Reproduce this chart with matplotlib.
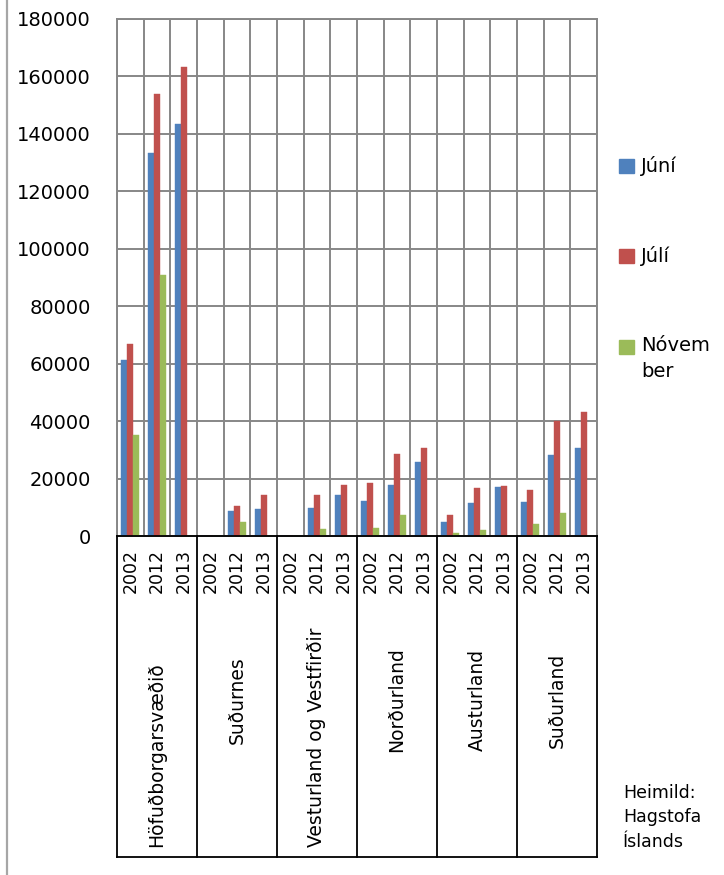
import matplotlib
matplotlib.use("Agg")
import matplotlib.pyplot as plt
from matplotlib.patches import Rectangle
from matplotlib.lines import Line2D
import matplotlib.transforms as mtransforms
import numpy as np

plt.rcParams['font.family'] = ['DejaVu Sans']

regions = ["Höfuðborgarsvæðið", "Suðurnes", "Vesturland og Vestfirðir",
           "Norðurland", "Austurland", "Suðurland"]
years = ["2002", "2012", "2013"]
series_names = ["Júní", "Júlí", "Nóvem\nber"]
series_colors = ["#4F81BD", "#C0504D", "#9BBB59"]

juni = [61300, 133200, 143300, 0, 8600, 9300, 0, 9750, 14200,
        12200, 17800, 25700, 4800, 11400, 17200, 11700, 28200, 30700]
juli = [66900, 154000, 163300, 0, 10350, 14200, 0, 14300, 17800,
        18500, 28600, 30600, 7400, 16700, 17300, 15900, 40200, 43300]
november = [35000, 91000, 0, 0, 5000, 0, 0, 2400, 0,
            2800, 7300, 0, 1050, 2100, 0, 4300, 8000, 0]
source_text = "Heimild:\nHagstofa\nÍslands"

W, H = 724, 875
fig = plt.figure(figsize=(W / 100, H / 100), dpi=100)

def fx(px):
    return px / W

def fy(py):
    return 1 - py / H

left, right, top, bottom = 117, 597, 19, 536
ax = fig.add_axes([fx(left), fy(bottom), fx(right - left), (bottom - top) / H])

n_cat = len(regions) * len(years)
x = np.arange(n_cat) + 0.5
bw = 1 / 4.5
all_series = [juni, juli, november]
for i, (vals, col) in enumerate(zip(all_series, series_colors)):
    ax.bar(x + (i - 1) * bw, vals, width=bw, color=col, zorder=3,
           edgecolor=col, linewidth=0.3)

grid_col = "#878787"
ax.set_xlim(0, n_cat)
ax.set_ylim(0, 180000)
ax.set_yticks(np.arange(0, 180001, 20000))
ax.set_xticks(np.arange(0, n_cat + 1))
ax.set_xticklabels([])
ax.grid(True, color=grid_col, linewidth=1.4, zorder=0)
ax.set_axisbelow(True)
ax.tick_params(axis='both', length=0)
ax.tick_params(axis='y', labelsize=14, pad=19)
for s in ax.spines.values():
    s.set_color(grid_col)
    s.set_linewidth(1.4)

# multi-level category axis (boxes)
trans = mtransforms.blended_transform_factory(ax.transData, fig.transFigure)
box_top, box_bottom = 536, 857
for r in range(len(regions) + 1):
    xr = r * len(years)
    fig.add_artist(Line2D([xr, xr], [fy(box_top), fy(box_bottom)], transform=trans,
                          color="black", lw=1.3))
fig.add_artist(Line2D([0, n_cat], [fy(box_top), fy(box_top)], transform=trans,
                      color="black", lw=1.3))
fig.add_artist(Line2D([0, n_cat], [fy(box_bottom), fy(box_bottom)], transform=trans,
                      color="black", lw=1.3))

for k in range(n_cat):
    fig.text(k + 0.5, fy(571), years[k % len(years)], transform=trans,
             rotation=90, ha='center', va='center', fontsize=12.5)

fig.canvas.draw()
renderer = fig.canvas.get_renderer()
for r, name in enumerate(regions):
    xc = r * len(years) + len(years) / 2
    t = fig.text(xc, fy(700), name, transform=trans, rotation=90,
                 ha='center', va='center', fontsize=13.5)
    bb = t.get_window_extent(renderer)
    if bb.height > 150:
        t.set_va('bottom')
        t.set_y(fy(847))

# legend (manual)
leg_centers = [166, 256, 347]
for name, col, yc in zip(series_names, series_colors, leg_centers):
    fig.add_artist(Rectangle((fx(619), fy(yc + 7)), fx(15), 14 / H,
                             transform=fig.transFigure, color=col))
    if '\n' in name:
        fig.text(fx(641), fy(yc - 11), name, ha='left', va='top',
                 fontsize=14, linespacing=1.45)
    else:
        fig.text(fx(641), fy(yc), name, ha='left', va='center', fontsize=14)

fig.text(fx(623), fy(784), source_text, ha='left', va='top', fontsize=12.5,
         linespacing=1.45)

# chart-area left border
fig.add_artist(Line2D([fx(7), fx(7)], [0, 1], transform=fig.transFigure,
                      color="#a6a6a6", lw=1.6))

fig.savefig("out.png", dpi=100)
